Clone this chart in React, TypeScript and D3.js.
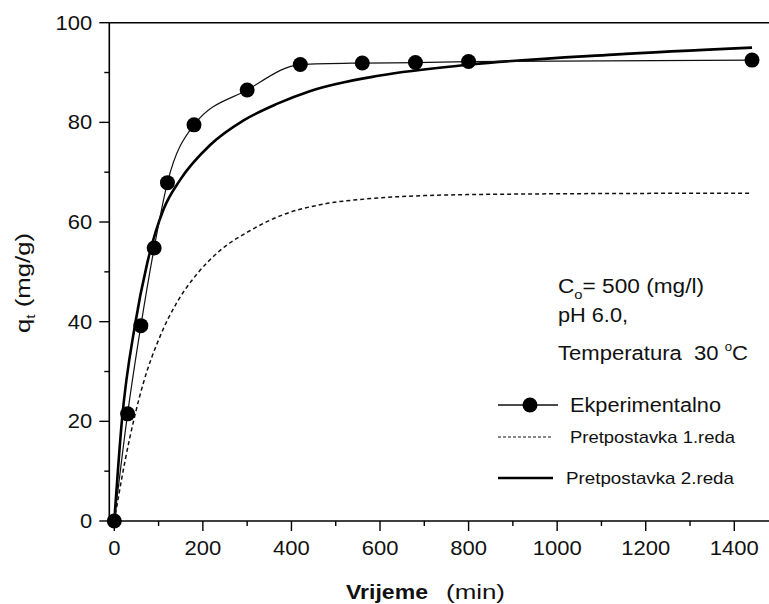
import * as d3 from "d3";

// experimental points
const timeMin = [0, 30, 60, 90, 120, 180, 300, 420, 560, 680, 800, 1440];
const qExperimental = [0, 21.5, 39.2, 54.8, 67.9, 79.5, 86.5, 91.6, 91.9, 92.0, 92.2, 92.5];

// pseudo first order curve
const firstOrderT = [0, 25, 66, 104, 141, 187, 239, 307, 382, 473, 578, 700, 900, 1440];
const firstOrderQ = [0, 12.4, 27.8, 37.2, 43.8, 49.6, 54.3, 58.3, 61.5, 63.6, 64.7, 65.3, 65.6, 65.8];

// pseudo second order curve
const secondOrderT = [0, 17, 47, 74, 111, 149, 217, 292, 367, 443, 600, 804, 1127, 1440];
const secondOrderQ = [0, 20, 39.5, 51.6, 62.5, 68.5, 75.5, 80.4, 83.7, 86.3, 89.4, 91.6, 93.6, 95];

const xTicks = [0, 200, 400, 600, 800, 1000, 1200, 1400];
const xMinorTicks = [100, 300, 500, 700, 900, 1100, 1300];
const yTicks = [0, 20, 40, 60, 80, 100];
const yMinorTicks = [10, 30, 50, 70, 90];

const FONT = "'Liberation Sans', Arial, sans-serif";

export default function App() {
  const W = 769, H = 604;
  const x = d3.scaleLinear().domain([0, 1400]).range([114.3, 734.3]);
  const y = d3.scaleLinear().domain([0, 100]).range([521, 22.7]);
  const axisX = 109.3;

  const line = d3.line<[number, number]>()
    .x(d => x(d[0])).y(d => y(d[1]))
    .curve(d3.curveMonotoneX);

  const expPts = timeMin.map((t, i) => [t, qExperimental[i]] as [number, number]);
  const p1 = firstOrderT.map((t, i) => [t, firstOrderQ[i]] as [number, number]);
  const p2 = secondOrderT.map((t, i) => [t, secondOrderQ[i]] as [number, number]);

  return (
    <svg width={W} height={H} style={{ position: "absolute", left: 0, top: 0, background: "#fff" }}
      fontFamily={FONT}>
      {/* frame */}
      <line x1={axisX} x2={W + 10} y1={y(100)} y2={y(100)} stroke="#000" strokeWidth={1.6} />
      <line x1={axisX} x2={W + 10} y1={y(0)} y2={y(0)} stroke="#000" strokeWidth={1.6} />
      <line x1={axisX} x2={axisX} y1={y(100)} y2={y(0)} stroke="#000" strokeWidth={1.6} />

      {/* y ticks */}
      {yTicks.map(v => (
        <g key={"y" + v}>
          <line x1={axisX - 10} x2={axisX} y1={y(v)} y2={y(v)} stroke="#000" strokeWidth={1.4} />
          <text transform={`translate(${axisX - 17},${y(v) + 7}) scale(1.1,1)`} textAnchor="end"
            fontSize={20} fill="#111">{v}</text>
        </g>
      ))}
      {yMinorTicks.map(v => (
        <line key={"ym" + v} x1={axisX - 5} x2={axisX} y1={y(v)} y2={y(v)} stroke="#000" strokeWidth={1.4} />
      ))}

      {/* x ticks */}
      {xTicks.map(v => (
        <g key={"x" + v}>
          <line x1={x(v)} x2={x(v)} y1={y(0)} y2={y(0) + 10} stroke="#000" strokeWidth={1.4} />
          <text transform={`translate(${x(v)},${y(0) + 34}) scale(1.1,1)`} textAnchor="middle"
            fontSize={20} fill="#111">{v}</text>
        </g>
      ))}
      {xMinorTicks.map(v => (
        <line key={"xm" + v} x1={x(v)} x2={x(v)} y1={y(0)} y2={y(0) + 5} stroke="#000" strokeWidth={1.4} />
      ))}

      {/* axis titles */}
      <text x={346} y={599} fontSize={20} fontWeight="bold" fill="#111"
        textLength={82} lengthAdjust="spacingAndGlyphs">Vrijeme</text>
      <text x={446} y={599} fontSize={20} fill="#111"
        textLength={59} lengthAdjust="spacingAndGlyphs">(min)</text>
      <text transform="translate(30,333) rotate(-90)" fontSize={20} fill="#111"
        textLength={100} lengthAdjust="spacingAndGlyphs">
        q<tspan fontSize={12} dy={5}>t</tspan><tspan dy={-5}> (mg/g)</tspan>
      </text>

      {/* curves */}
      <path d={line(p1) ?? ""} fill="none" stroke="#111" strokeWidth={1.5} strokeDasharray="4,3" />
      <path d={line(p2) ?? ""} fill="none" stroke="#000" strokeWidth={2.6} />
      <path d={line(expPts) ?? ""} fill="none" stroke="#111" strokeWidth={1.2} />
      {expPts.map((d, i) => (
        <circle key={i} cx={x(d[0])} cy={y(d[1])} r={7.5} fill="#000" />
      ))}

      {/* conditions */}
      <text x={558} y={293} fontSize={20} fill="#111" textLength={146} lengthAdjust="spacingAndGlyphs">
        C<tspan fontSize={13} dy={6}>o</tspan><tspan dy={-6}>= 500 (mg/l)</tspan>
      </text>
      <text x={558} y={322} fontSize={20} fill="#111" textLength={70} lengthAdjust="spacingAndGlyphs">pH 6.0,</text>
      <text x={558} y={360} fontSize={20} fill="#111" textLength={190} lengthAdjust="spacingAndGlyphs">
        {"Temperatura\u00a0\u00a030 "}<tspan fontSize={12} dy={-9}>o</tspan><tspan dy={9}>C</tspan>
      </text>

      {/* legend */}
      <line x1={498} x2={558} y1={405} y2={405} stroke="#111" strokeWidth={1.3} />
      <circle cx={530} cy={405} r={7.5} fill="#000" />
      <text x={570} y={412} fontSize={20} fill="#111" textLength={151} lengthAdjust="spacingAndGlyphs">Ekperimentalno</text>
      <line x1={498} x2={552} y1={437} y2={437} stroke="#111" strokeWidth={1.2} strokeDasharray="3,2" />
      <text x={570} y={443} fontSize={17} fill="#111" textLength={165} lengthAdjust="spacingAndGlyphs">Pretpostavka 1.reda</text>
      <line x1={498} x2={553} y1={478} y2={478} stroke="#000" strokeWidth={2.6} />
      <text x={566} y={484} fontSize={17} fill="#111" textLength={168} lengthAdjust="spacingAndGlyphs">Pretpostavka 2.reda</text>
    </svg>
  );
}
